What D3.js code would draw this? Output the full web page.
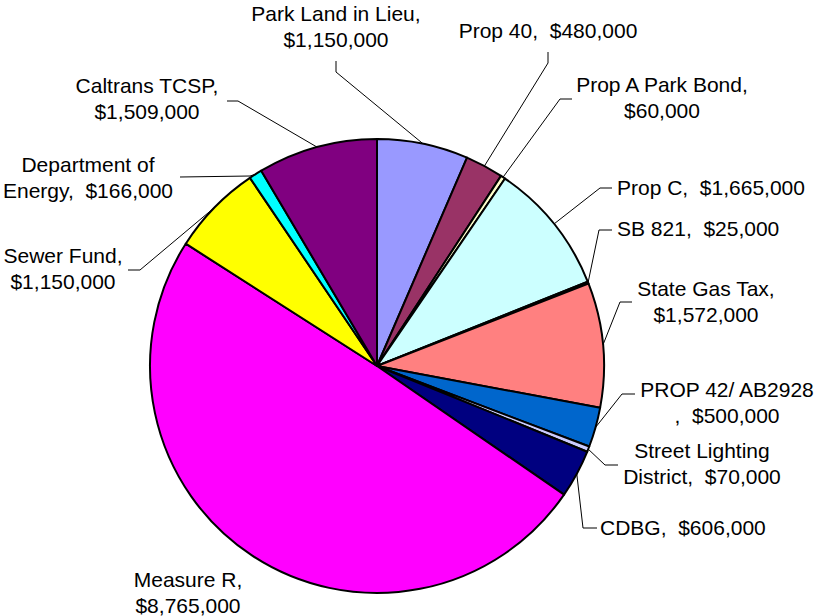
<!DOCTYPE html>
<html>
<head>
<meta charset="utf-8">
<script src="https://cdn.jsdelivr.net/npm/d3@7"></script>
<style>
  body { margin: 0; background: #fff; }
  svg { display: block; }
</style>
</head>
<body>
<div id="chart"></div>
<script>
// funding sources, clockwise from 12 o'clock
const sources = ["Park Land in Lieu", "Prop 40", "Prop A Park Bond", "Prop C", "SB 821",
    "State Gas Tax", "PROP 42/ AB2928", "Street Lighting District", "CDBG", "Measure R",
    "Sewer Fund", "Department of Energy", "Caltrans TCSP"];
const amounts = [1150000, 480000, 60000, 1665000, 25000, 1572000, 500000, 70000, 606000,
    8765000, 1150000, 166000, 1509000];
const sliceColors = ["#9999FF", "#993366", "#FFFFCC", "#CCFFFF", "#660066", "#FF8080",
    "#0066CC", "#CCCCFF", "#000080", "#FF00FF", "#FFFF00", "#00FFFF", "#800080"];

const width = 819, height = 616;
const cx = 377, cy = 366, radius = 227;

// label placement: text centre x, first baseline, how the text breaks, leader points (label side)
const labelLayout = [
    { x: 336, y: 21, brk: "value", lead: [[336, 61], [336, 72]] },
    { x: 548, y: 38, brk: null, lead: [[548, 52], [548, 63]] },
    { x: 662, y: 92, brk: "value", lead: [[572, 99], [560, 99]] },
    { x: 617, y: 195, brk: null, anchor: "start", lead: [[612, 188], [600, 188]] },
    { x: 617, y: 236, brk: null, anchor: "start", lead: [[612, 230], [599, 230]] },
    { x: 706, y: 296, brk: "value", lead: [[632, 302], [620, 302]] },
    { x: 727, y: 397, brk: "comma", lead: [[635, 394], [622, 394]] },
    { x: 702, y: 458, brk: 15, lead: [[618, 465], [605, 465]] },
    { x: 600, y: 535, brk: null, anchor: "start", lead: [[597, 528], [583, 528]] },
    { x: 188, y: 587, brk: "value", lead: null },
    { x: 63, y: 263, brk: "value", lead: [[128, 270], [140, 270]] },
    { x: 88, y: 172, brk: 13, lead: [[180, 177], [250, 176]] },
    { x: 147, y: 93, brk: "value", lead: [[227, 101], [238, 101]] }
];

const data = sources.map((name, i) => ({ name, value: amounts[i], color: sliceColors[i] }));
const money = v => "$" + d3.format(",")(v);

function labelLines(d, brk) {
    if (brk === null) return [d.name + ",  " + money(d.value)];
    if (brk === "value") return [d.name + ",", money(d.value)];
    if (brk === "comma") return [d.name, ",  " + money(d.value)];
    return [d.name.slice(0, brk).trim(), d.name.slice(brk).trim() + ",  " + money(d.value)];
}

const svg = d3.select("#chart")
    .append("svg")
    .attr("width", width)
    .attr("height", height);

const pie = d3.pie().value(d => d.value).sort(null);
const arc = d3.arc().innerRadius(0).outerRadius(radius);
const arcs = pie(data);

const g = svg.append("g").attr("transform", `translate(${cx},${cy})`);

g.selectAll("path.slice")
    .data(arcs)
    .enter()
    .append("path")
    .attr("class", "slice")
    .attr("d", arc)
    .attr("fill", d => d.data.color)
    .attr("stroke", "#000")
    .attr("stroke-width", 2)
    .attr("stroke-linejoin", "round");

// leader lines: label side points, then the slice edge at the middle angle
const edgePoint = d => {
    const a = (d.startAngle + d.endAngle) / 2;
    return [cx + radius * Math.sin(a), cy - radius * Math.cos(a)];
};

svg.selectAll("polyline.leader")
    .data(arcs.filter((d, i) => labelLayout[i].lead))
    .enter()
    .append("polyline")
    .attr("class", "leader")
    .attr("points", d => labelLayout[d.index].lead.concat([edgePoint(d)]).map(p => p.join(",")).join(" "))
    .attr("fill", "none")
    .attr("stroke", "#000")
    .attr("stroke-width", 1);

const labels = svg.selectAll("text.label")
    .data(arcs)
    .enter()
    .append("text")
    .attr("class", "label")
    .attr("x", d => labelLayout[d.index].x)
    .attr("y", d => labelLayout[d.index].y)
    .attr("text-anchor", d => labelLayout[d.index].anchor || "middle")
    .style("font-family", "'Liberation Sans', Arial, sans-serif")
    .style("font-size", "21px")
    .style("fill", "#000")
    .style("white-space", "pre");

labels.each(function (d) {
    const lay = labelLayout[d.index];
    d3.select(this).selectAll("tspan")
        .data(labelLines(d.data, lay.brk))
        .enter()
        .append("tspan")
        .attr("x", lay.x)
        .attr("dy", (t, i) => i === 0 ? 0 : 26)
        .text(t => t);
});
</script>
</body>
</html>
